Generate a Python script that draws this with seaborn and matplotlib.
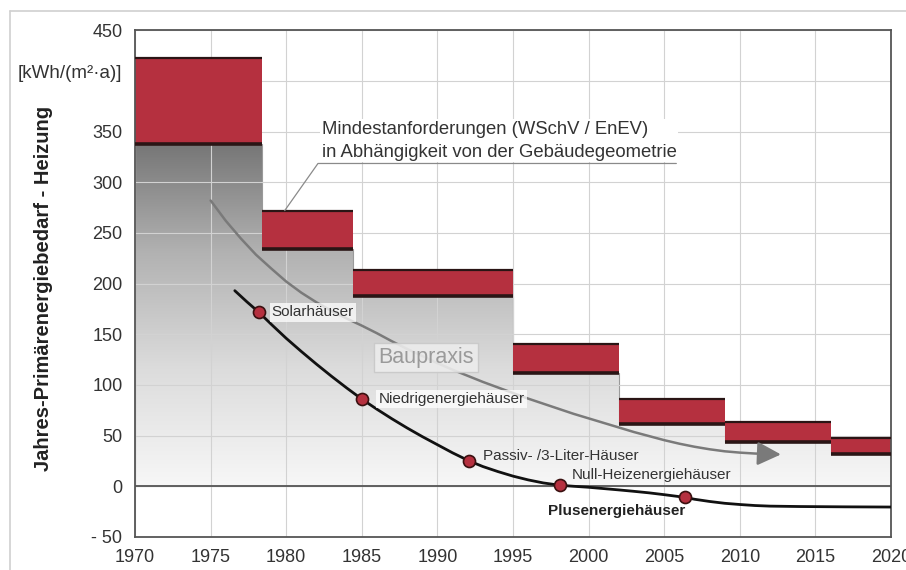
import numpy as np
import pandas as pd
import matplotlib
matplotlib.use("Agg")
import matplotlib.pyplot as plt
from matplotlib.colors import LinearSegmentedColormap
from matplotlib.patches import Polygon
import matplotlib.transforms as mtransforms
import seaborn as sns

# Mindestanforderungen (WSchV / EnEV) per period
period_start = [1970, 1978.4, 1984.4, 1995, 2002, 2009, 2016]
period_end = [1978.4, 1984.4, 1995, 2002, 2009, 2016, 2020]
req_max = [423, 272, 213, 140, 86, 63, 48]
req_min = [338, 234, 188, 112, 61, 44, 32]

# Baupraxis trend (grey arrow)
praxis_year = [1975, 1976, 1977, 1978, 1979, 1980, 1981, 1982, 1983, 1984, 1985,
               1986, 1987, 1988, 1989, 1990, 1991, 1992, 1993, 1994, 1995, 1996,
               1997, 1998, 1999, 2000, 2001, 2002, 2003, 2004, 2005, 2006, 2007,
               2008, 2009, 2010, 2011, 2011.8]
praxis_value = [282, 262, 244.5, 228.5, 215, 202, 191, 181.5, 173, 165.5, 158.5,
                151, 143, 135.5, 128.5, 121.5, 115, 109, 103, 97.5, 92, 86.5,
                81.5, 76.5, 71.5, 67, 62.5, 58, 53.5, 49.5, 45.5, 42, 39,
                36.5, 34.5, 33.2, 32.3, 31.8]

# building standards curve (black)
std_year = [1976.6, 1977.4, 1978.2, 1979, 1980, 1981, 1982, 1983, 1984, 1985,
            1986, 1987, 1988, 1989, 1990, 1991, 1992.1, 1993, 1994, 1995, 1996,
            1997, 1998.1, 1999, 2000, 2001, 2002, 2003, 2004, 2005, 2006.4,
            2007, 2008, 2009, 2010, 2011, 2012, 2014, 2017, 2020]
std_value = [193, 182, 171.6, 160, 146, 133, 120.5, 108.5, 97, 86,
             76, 66.5, 57.5, 49, 41, 33, 25, 19.5, 14.5, 10, 6.3,
             3.3, 1, 0, -1, -2.3, -3.6, -5, -6.5, -8.3, -11,
             -12.8, -15, -16.8, -18, -19, -19.6, -20, -20.3, -20.5]

house_types = ["Solarhäuser", "Niedrigenergiehäuser", "Passiv- /3-Liter-Häuser",
               "Null-Heizenergiehäuser", "Plusenergiehäuser"]
house_year = [1978.2, 1985, 1992.1, 1998.1, 2006.4]
house_value = [171.6, 86, 25, 1, -11]

x_ticks = [1970, 1975, 1980, 1985, 1990, 1995, 2000, 2005, 2010, 2015, 2020]
y_ticks = [-50, 0, 50, 100, 150, 200, 250, 300, 350, 400, 450]
y_tick_labels = ["- 50", "0", "50", "100", "150", "200", "250", "300", "350", "", "450"]

sns.set_theme(style="white")
plt.rcParams['font.family'] = ['Liberation Sans', 'DejaVu Sans']

red = "#b5303f"
txt = "#333333"

fig = plt.figure(figsize=(9.06, 5.70), dpi=100)
ax = fig.add_axes([0.149, 0.058, 0.8345, 0.889])

# grey gradient under the requirement steps
verts = [(period_start[0], 0)]
for s, e, b in zip(period_start, period_end, req_min):
    verts += [(s, b), (e, b)]
verts.append((period_end[-1], 0))
poly = Polygon(verts, closed=True, facecolor="none", edgecolor="#9a9a9a", lw=0.8, zorder=0.3)
ax.add_patch(poly)
grey_cmap = LinearSegmentedColormap.from_list("g", ["#f7f7f7", "#dcdcdc", "#b2b2b2", "#727272"])
grad = np.linspace(0, 1, 256).reshape(-1, 1)
im = ax.imshow(grad, extent=[1970, 2020, 0, 345], origin="lower", aspect="auto",
               cmap=grey_cmap, zorder=0.2)
im.set_clip_path(poly)

# red requirement boxes
df_req = pd.DataFrame({"start": period_start, "end": period_end, "lo": req_min, "hi": req_max})
ax.bar(df_req["start"], df_req["hi"] - df_req["lo"], bottom=df_req["lo"],
       width=df_req["end"] - df_req["start"], align="edge", color=red, lw=0, zorder=2)
ax.hlines(df_req["hi"], df_req["start"], df_req["end"], colors="#2a1515", lw=1.6, zorder=3)
ax.hlines(df_req["lo"], df_req["start"], df_req["end"], colors="#2a1515", lw=2.6, zorder=3)

# zero line
ax.axhline(0, color="#555555", lw=1.3, zorder=1.5)

# Baupraxis arrow
sns.lineplot(x=praxis_year, y=praxis_value, ax=ax, color="#7a7a7a", lw=1.8,
             sort=False, estimator=None, zorder=3)
ax.annotate("", xy=(praxis_year[-1] + 1.1, praxis_value[-1] - 0.5),
            xytext=(praxis_year[-1] - 0.3, praxis_value[-1] + 0.3),
            arrowprops=dict(arrowstyle="-|>,head_length=0.9,head_width=0.45",
                            color="#7a7a7a", lw=1.8, mutation_scale=16), zorder=3)
ax.text(1989.25, 127, "Baupraxis", fontsize=15.5, color="#9a9a9a", ha="center", va="center",
        bbox=dict(boxstyle="square,pad=0.2", fc="#ececec", ec="#c8c8c8", lw=1, alpha=0.9), zorder=3)

# standards curve
sns.lineplot(x=std_year, y=std_value, ax=ax, color="#111111", lw=2.0,
             sort=False, estimator=None, zorder=4)
sns.scatterplot(x=house_year, y=house_value, ax=ax, color=red, edgecolor="#3a1010",
                linewidth=1.2, s=75, zorder=5)

lab_box = dict(boxstyle="square,pad=0.15", fc="white", ec="none", alpha=0.75)
ax.text(1979.05, 171.6, house_types[0], fontsize=11, color=txt, va="center", bbox=lab_box, zorder=4)
ax.text(1986.1, 86, house_types[1], fontsize=11, color=txt, va="center", bbox=lab_box, zorder=4)
ax.text(1993.0, 30, house_types[2], fontsize=11, color=txt, va="center", zorder=4)
ax.text(1998.9, 10.8, house_types[3], fontsize=11, color=txt, va="center", zorder=4)
ax.text(1997.3, -24.4, house_types[4], fontsize=11, color="#222222", va="center",
        fontweight="bold", zorder=4)

# Mindestanforderungen label with leader
ax.text(1982.35, 341, "Mindestanforderungen (WSchV / EnEV)\nin Abhängigkeit von der Gebäudegeometrie",
        fontsize=13.3, color=txt, va="center", ha="left", linespacing=1.45,
        bbox=dict(boxstyle="square,pad=0.1", fc="white", ec="none"), zorder=3)
ax.plot([1979.9, 1982.1, 2005.8], [272, 318.5, 318.5], color="#8a8a8a", lw=0.9, zorder=3)

# axes, ticks, grid
ax.set_xlim(1970, 2020)
ax.set_ylim(-50, 450)
ax.set_xticks(x_ticks)
ax.set_xticklabels([str(t) for t in x_ticks], fontsize=13, color=txt)
ax.set_yticks(y_ticks)
ax.set_yticklabels(y_tick_labels, fontsize=13, color=txt)
ax.tick_params(axis="x", length=0, pad=9)
ax.tick_params(axis="y", length=0, pad=9)
ax.set_axisbelow(True)
ax.grid(True, color="#d2d2d2", lw=0.8)
for sp in ax.spines.values():
    sp.set_color("#555555")
    sp.set_linewidth(1.3)

ax.set_ylabel("Jahres-Primärenergiebedarf - Heizung", fontsize=14.5, fontweight="bold",
              color="#222222")
ax.yaxis.set_label_coords(-0.108, 0.49)
trans = mtransforms.blended_transform_factory(ax.transAxes, ax.transData)
ax.text(-0.017, 407, "[kWh/(m²·a)]", transform=trans, fontsize=13.5, color=txt,
        ha="right", va="center")

# light frame around the figure (left and top)
fig.add_artist(plt.Line2D([10 / 906, 10 / 906], [0, 1 - 11 / 570], color="#d0d0d0", lw=1.2))
fig.add_artist(plt.Line2D([10 / 906, 1], [1 - 11 / 570, 1 - 11 / 570], color="#d0d0d0", lw=1.2))

fig.savefig("out.png", dpi=100)
